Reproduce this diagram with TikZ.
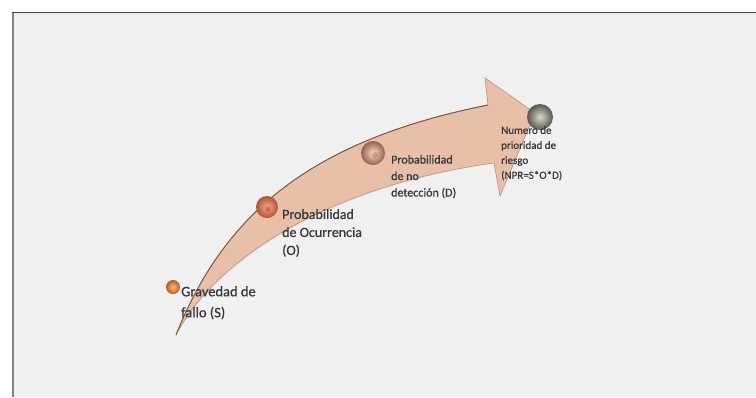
\documentclass[tikz,border=0pt]{standalone}
\usepackage{fontspec}
\setmainfont{Carlito}
\newfontfamily\steplabelfont{Carlito}[FakeBold=0.6]
\begin{document}
\definecolor{panelbg}{RGB}{240,240,240}
\definecolor{frametop}{RGB}{70,70,70}
\definecolor{frameleft}{RGB}{130,130,130}
\definecolor{arrowfill}{RGB}{232,192,168}
\definecolor{arrowedge}{RGB}{185,145,125}
\definecolor{arrowrim}{RGB}{120,85,65}
\definecolor{labeltext}{RGB}{55,55,55}
\begin{tikzpicture}[x=1pt,y=-1pt,
  stepball/.style={circle,inner sep=0pt,shading=radial},
  steplabel/.style={anchor=north west,inner sep=0pt,align=left,text=labeltext}]
\useasboundingbox (0,0) rectangle (756,397);
% panel and its frame
\fill[white] (0,0) rectangle (756,397);
\fill[panelbg] (12.5,12.5) rectangle (756,397);
\draw[frameleft,line width=2pt] (12.5,12.5) -- (12.5,397);
\draw[frametop,line width=1.4pt] (11.5,12.5) -- (756,12.5);

% curved arrow: tapered tail, widening shaft, head at upper right
\coordinate (tail) at (176,335);
\coordinate (shaftup) at (488,105);
\coordinate (headback) at (485,78);
\coordinate (tip) at (535,113);
\coordinate (headlow) at (500,196);
\coordinate (shaftlow) at (494,163);
\fill[black,opacity=0.06,xshift=1.5pt,yshift=-1.5pt]
  (tail) .. controls (225,212) and (313,140) .. (shaftup)
  -- (headback) -- (tip) -- (headlow) -- (shaftlow)
  .. controls (334,185) and (218,255) .. (tail) -- cycle;
\draw[arrowedge,line width=0.6pt,fill=arrowfill]
  (tail) .. controls (225,212) and (313,140) .. (shaftup)
  -- (headback) -- (tip) -- (headlow) -- (shaftlow)
  .. controls (334,185) and (218,255) .. (tail) -- cycle;
\draw[arrowrim,line width=0.9pt]
  (tail) .. controls (225,212) and (313,140) .. (shaftup);

% step markers
\node[stepball,minimum size=14pt,inner color={rgb,255:red,250;green,190;blue,110},outer color={rgb,255:red,180;green,95;blue,30}] (ballS) at (173,287) {};
\node[stepball,minimum size=22pt,inner color={rgb,255:red,245;green,170;blue,140},outer color={rgb,255:red,175;green,85;blue,50}] (ballO) at (267,207) {};
\node[circle,inner sep=0pt,minimum size=5pt,fill={rgb,255:red,200;green,70;blue,50},opacity=0.6] (dotO) at (268,209) {};
\node[stepball,minimum size=24pt,inner color={rgb,255:red,248;green,222;blue,205},outer color={rgb,255:red,150;green,95;blue,75}] (ballD) at (373,153) {};
\node[circle,inner sep=0pt,minimum size=6pt,fill={rgb,255:red,180;green,110;blue,95},opacity=0.5] (dotD) at (375,155) {};
\node[stepball,minimum size=26pt,inner color={rgb,255:red,215;green,215;blue,205},outer color={rgb,255:red,85;green,88;blue,80}] (ballN) at (540,117) {};

% step labels
\node[steplabel,font=\steplabelfont\fontsize{14.5}{21}\selectfont] (labS) at (181,286) {Gravedad de\\fallo (S)};
\node[steplabel,font=\steplabelfont\fontsize{14}{18}\selectfont] (labO) at (282,209) {Probabilidad\\de Ocurrencia\\(O)};
\node[steplabel,font=\steplabelfont\fontsize{12}{16.5}\selectfont] (labD) at (391,155) {Probabilidad\\de no\\detección (D)};
\node[steplabel,font=\steplabelfont\fontsize{11}{15}\selectfont] (labN) at (501,126) {Numero de\\prioridad de\\riesgo\\(NPR=S*O*D)};
\end{tikzpicture}
\end{document}
